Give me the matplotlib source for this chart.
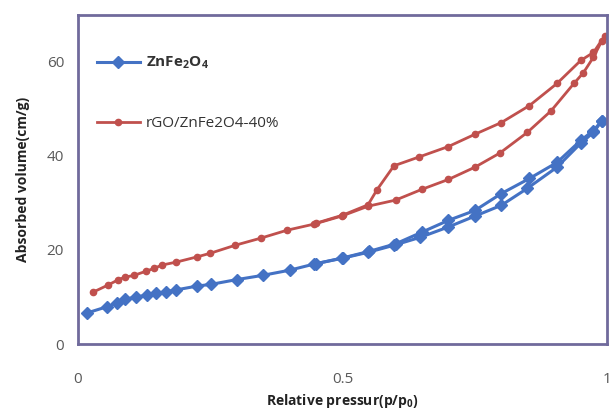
import matplotlib
matplotlib.use("Agg")
import matplotlib.pyplot as plt

plt.rcParams['font.family'] = ['Open Sans', 'DejaVu Sans']
plt.rcParams['mathtext.fontset'] = 'custom'
plt.rcParams['mathtext.rm'] = 'Open Sans'
plt.rcParams['mathtext.bf'] = 'Open Sans:bold'

# ZnFe2O4 isotherm (adsorption / desorption)
zn_ads_x = [0.017, 0.054, 0.073, 0.088, 0.11, 0.13, 0.147, 0.166, 0.185, 0.224, 0.252,
            0.3, 0.349, 0.4, 0.446, 0.498, 0.548, 0.597, 0.647, 0.70, 0.75, 0.80,
            0.849, 0.905, 0.95, 0.974, 0.99]
zn_ads_y = [6.6, 7.9, 8.7, 9.5, 10.0, 10.4, 10.8, 11.1, 11.5, 12.3, 12.7,
            13.7, 14.6, 15.7, 17.0, 18.2, 19.5, 21.0, 22.7, 24.9, 27.2, 29.5,
            33.1, 37.6, 42.7, 45.0, 47.5]
zn_des_x = [0.99, 0.974, 0.95, 0.905, 0.853, 0.80, 0.75, 0.70, 0.65, 0.60, 0.55, 0.50, 0.45]
zn_des_y = [47.5, 45.4, 43.3, 38.6, 35.2, 32.0, 28.4, 26.3, 23.8, 21.3, 19.7, 18.3, 17.1]

# rGO/ZnFe2O4-40% isotherm
rgo_ads_x = [0.028, 0.056, 0.075, 0.088, 0.106, 0.129, 0.144, 0.159, 0.185, 0.224, 0.25,
             0.297, 0.345, 0.395, 0.446, 0.498, 0.548, 0.60, 0.65, 0.70, 0.75, 0.797,
             0.849, 0.894, 0.937, 0.955, 0.974, 0.99]
rgo_ads_y = [11.0, 12.5, 13.6, 14.2, 14.6, 15.5, 16.1, 16.8, 17.4, 18.5, 19.3,
             21.0, 22.5, 24.2, 25.5, 27.2, 29.3, 30.6, 32.9, 35.0, 37.6, 40.6,
             45.0, 49.6, 55.4, 57.7, 61.0, 64.5]
rgo_des_x = [0.995, 0.974, 0.95, 0.905, 0.853, 0.80, 0.75, 0.70, 0.645, 0.597, 0.565, 0.548, 0.50, 0.45]
rgo_des_y = [65.5, 62.0, 60.3, 55.4, 50.7, 47.1, 44.6, 42.0, 39.8, 37.9, 32.8, 29.6, 27.4, 25.7]

blue = '#4472C4'
red = '#C0504D'
frame = '#706A9C'

fig = plt.figure(figsize=(6.14, 4.12), dpi=100)
ax = fig.add_axes([0.127, 0.165, 0.862, 0.799])

l1, = ax.plot(zn_ads_x, zn_ads_y, color=blue, lw=2.2, marker='D', ms=6.5, mec=blue)
ax.plot(zn_des_x, zn_des_y, color=blue, lw=2.2, marker='D', ms=6.5, mec=blue)
l2, = ax.plot(rgo_ads_x, rgo_ads_y, color=red, lw=2, marker='o', ms=4.5, mec=red)
ax.plot(rgo_des_x, rgo_des_y, color=red, lw=2, marker='o', ms=4.5, mec=red)

ax.set_xlim(0, 1)
ax.set_ylim(0, 70)
ax.set_xticks([0, 0.5, 1])
ax.set_xticklabels(['0', '0.5', '1'])
ax.set_yticks([0, 20, 40, 60])
ax.tick_params(length=0, labelsize=11, labelcolor='#595959')
ax.tick_params(axis='x', pad=20)
ax.tick_params(axis='y', pad=10)

for s in ax.spines.values():
    s.set_color(frame)
    s.set_linewidth(2)

ax.set_xlabel(r'Relative pressur(p/p$_\mathbf{0}$)', fontsize=10, fontweight='bold', color='#222222', labelpad=4)
ax.set_ylabel('Absorbed volume(cm/g)', fontsize=10, fontweight='bold', color='#222222', labelpad=12)

leg = ax.legend([l1, l2], [r'$\mathbf{ZnFe_2O_4}$', 'rGO/ZnFe2O4-40%'],
                loc='upper left', bbox_to_anchor=(0.01, 0.92), frameon=False,
                numpoints=1, handlelength=2.8, handletextpad=0.4, labelspacing=2.95,
                fontsize=11)
for t in leg.get_texts():
    t.set_color('#333333')

fig.savefig('out.png', dpi=100)
